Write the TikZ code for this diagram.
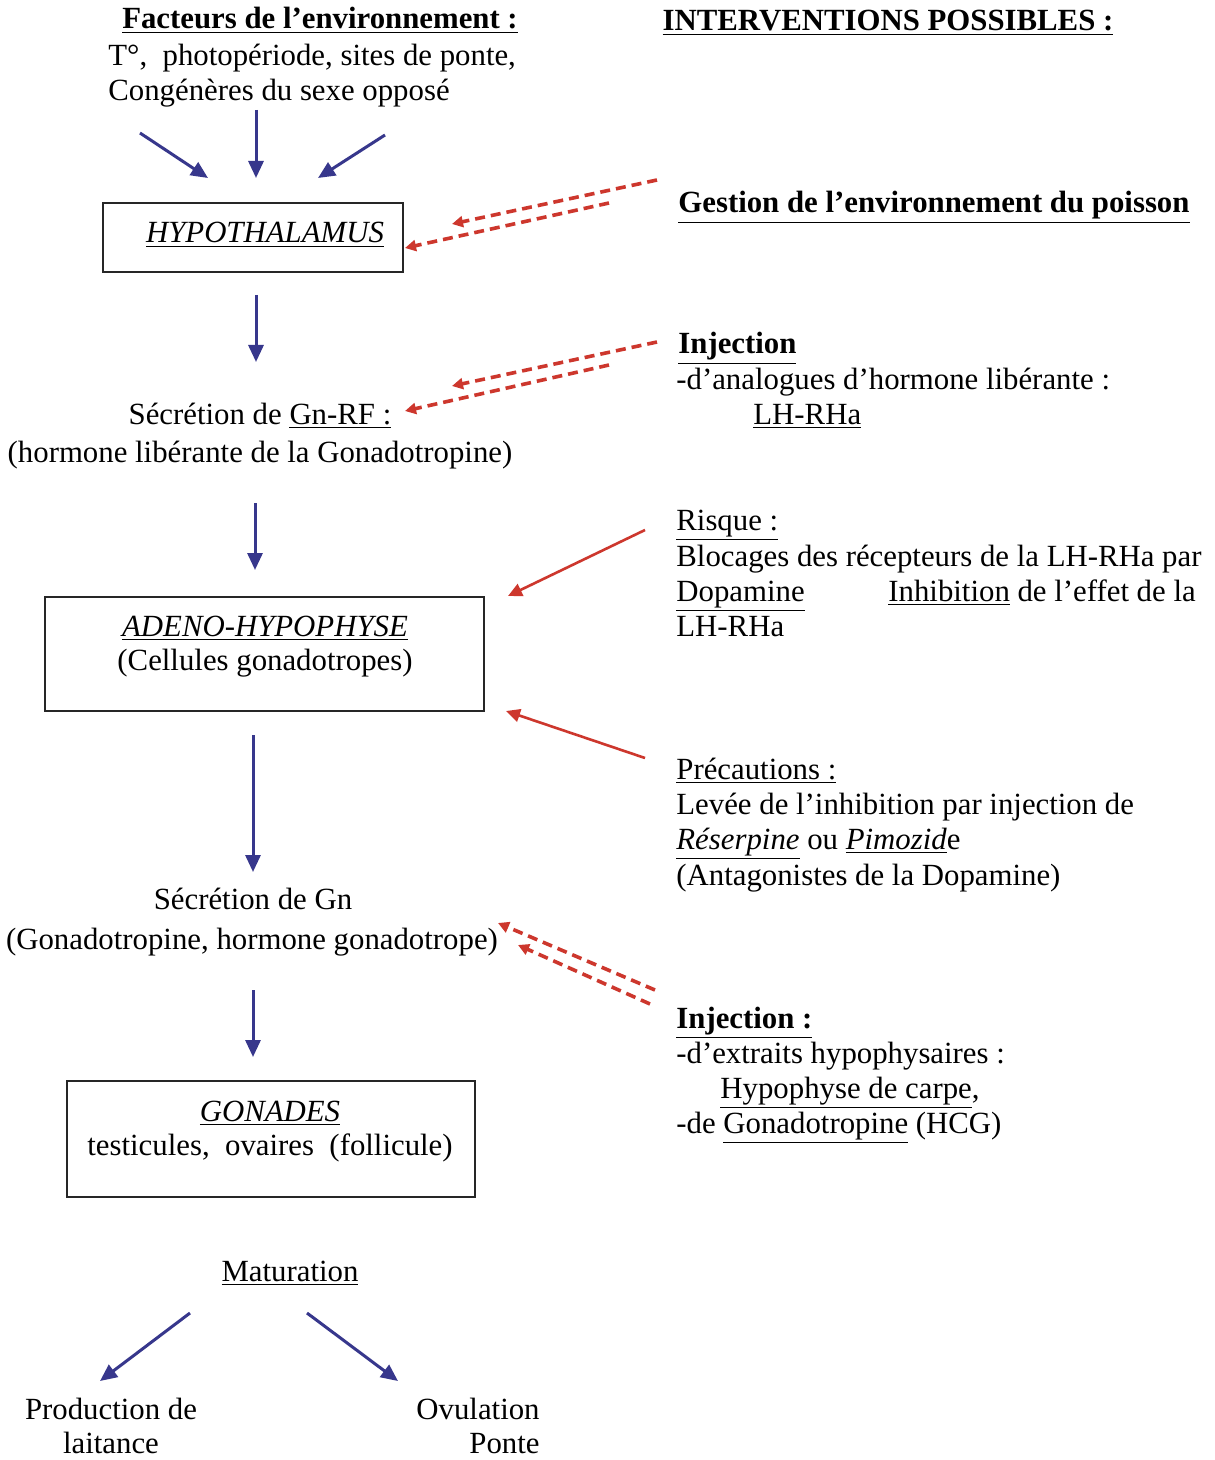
\documentclass[tikz,border=0pt]{standalone}
\usepackage{fontspec}
\setmainfont{Liberation Serif}
\usetikzlibrary{arrows.meta}
\definecolor{bluearr}{RGB}{55,55,140}
\definecolor{redarr}{RGB}{205,55,45}
\tikzset{
  txt/.style={inner sep=0pt, font=\fontsize{15.4}{17.5}\selectfont},
  boxnode/.style={draw=black!85, line width=0.8pt, inner sep=0pt},
  bluear/.style={draw=bluearr, line width=1.5pt, -{Triangle[length=8.5pt,width=7.5pt]}},
  reddash/.style={draw=redarr, line width=1.8pt, dash pattern=on 5pt off 3pt, -{Triangle[length=5.5pt,width=5.5pt]}},
  redsolid/.style={draw=redarr, line width=1.3pt, -{Triangle[length=7pt,width=6.5pt]}}
}
\begin{document}
\begin{tikzpicture}[x=0.5pt,y=-0.5pt]
\useasboundingbox[fill=white] (0,0) rectangle (1214,1460);

% ---------- left column ----------
\node[txt, anchor=base] (facth) at (320,29) {\textbf{\underline{Facteurs de l’environnement :}}};
\node[txt, anchor=base west] (fact1) at (108,66) {T°,\ \ photopériode, sites de ponte,};
\node[txt, anchor=base west] (fact2) at (108,101) {Congénères du sexe opposé};

\node[boxnode, minimum width=150pt, minimum height=34.5pt] (hyp) at (253,237.5) {};
\node[txt, anchor=base] (hyptxt) at (265,243) {\underline{\textit{HYPOTHALAMUS}}};

\node[txt, anchor=base] (gnrf1) at (260,424) {Sécrétion de \underline{Gn-RF :}};
\node[txt, anchor=base] (gnrf2) at (260,462) {(hormone libérante de la Gonadotropine)};

\node[boxnode, minimum width=219.5pt, minimum height=57pt] (adeno) at (264.5,654) {};
\node[txt, anchor=base] (adeno1) at (265,636) {\underline{\textit{ADENO-HYPOPHYSE}}};
\node[txt, anchor=base] (adeno2) at (265,670) {(Cellules gonadotropes)};

\node[txt, anchor=base] (gn1) at (253,909) {Sécrétion de Gn};
\node[txt, anchor=base] (gn2) at (252,949) {(Gonadotropine, hormone gonadotrope)};

\node[boxnode, minimum width=204pt, minimum height=58pt] (gon) at (271,1139) {};
\node[txt, anchor=base] (gon1) at (270,1121) {\underline{\textit{GONADES}}};
\node[txt, anchor=base] (gon2) at (270,1155) {testicules,\ \ ovaires\ \ (follicule)};

\node[txt, anchor=base] (mat) at (290,1281) {\underline{Maturation}};
\node[txt, anchor=base] (prod1) at (111,1419) {Production de};
\node[txt, anchor=base] (prod2) at (111,1453) {laitance};
\node[txt, anchor=base east] (ovu1) at (540,1419) {Ovulation};
\node[txt, anchor=base east] (ovu2) at (540,1453) {Ponte};

% ---------- right column ----------
\node[txt, anchor=base] (inth) at (888,31) {\textbf{\underline{INTERVENTIONS POSSIBLES :}}};
\node[txt, anchor=base west] (gest) at (678,213) {\textbf{\underline{Gestion de l’environnement du poisson}}};

\node[txt, anchor=base west] (inja) at (678,354) {\textbf{\underline{Injection}}};
\node[txt, anchor=base west] (injb) at (676,389) {-d’analogues d’hormone libérante :};
\node[txt, anchor=base west] (injc) at (753,424) {\underline{LH-RHa}};

\node[txt, anchor=base west] (risa) at (676,530) {\underline{Risque :}};
\node[txt, anchor=base west] (risb) at (676,566) {Blocages des récepteurs de la LH-RHa par};
\node[txt, anchor=base west] (risc) at (676,601) {\underline{Dopamine}};
\node[txt, anchor=base west] (risd) at (888,601) {\underline{Inhibition} de l’effet de la};
\node[txt, anchor=base west] (rise) at (676,636) {LH-RHa};

\node[txt, anchor=base west] (prea) at (676,779) {\underline{Précautions :}};
\node[txt, anchor=base west] (preb) at (676,814) {Levée de l’inhibition par injection de};
\node[txt, anchor=base west] (prec) at (676,849) {\underline{\textit{Réserpine}} ou \underline{\textit{Pimozid}}e};
\node[txt, anchor=base west] (pred) at (676,885) {(Antagonistes de la Dopamine)};

\node[txt, anchor=base west] (ijxa) at (676,1028) {\textbf{\underline{Injection :}}};
\node[txt, anchor=base west] (ijxb) at (676,1063) {-d’extraits hypophysaires :};
\node[txt, anchor=base west] (ijxc) at (720,1098) {\underline{Hypophyse de carpe},};
\node[txt, anchor=base west] (ijxd) at (676,1133) {-de \underline{Gonadotropine} (HCG)};

% ---------- connector end points ----------
\coordinate (f1s) at (140,133); \coordinate (f1e) at (208,178);
\coordinate (f2s) at (256,110); \coordinate (f2e) at (256,178);
\coordinate (f3s) at (385,135); \coordinate (f3e) at (318,178);
\coordinate (h1s) at (256,295); \coordinate (h1e) at (256,362);
\coordinate (g1s) at (255,503); \coordinate (g1e) at (255,570);
\coordinate (a1s) at (253,735); \coordinate (a1e) at (253,872);
\coordinate (n1s) at (253,990); \coordinate (n1e) at (253,1057);
\coordinate (m1s) at (190,1313); \coordinate (m1e) at (100,1381);
\coordinate (m2s) at (307,1313); \coordinate (m2e) at (398,1381);

\coordinate (d1s) at (657,180); \coordinate (d1e) at (452,224);
\coordinate (d2s) at (609,203); \coordinate (d2e) at (405,248);
\coordinate (d3s) at (657,342); \coordinate (d3e) at (452,386);
\coordinate (d4s) at (609,365); \coordinate (d4e) at (405,411);
\coordinate (d5s) at (655,990); \coordinate (d5e) at (498,923);
\coordinate (d6s) at (650,1004); \coordinate (d6e) at (518,945);
\coordinate (r1s) at (645,530); \coordinate (r1e) at (508,596);
\coordinate (r2s) at (645,758); \coordinate (r2e) at (506,711);

% ---------- blue arrows ----------
\draw[bluear] (f1s) -- (f1e);
\draw[bluear] (f2s) -- (f2e);
\draw[bluear] (f3s) -- (f3e);
\draw[bluear] (h1s) -- (h1e);
\draw[bluear] (g1s) -- (g1e);
\draw[bluear] (a1s) -- (a1e);
\draw[bluear] (n1s) -- (n1e);
\draw[bluear] (m1s) -- (m1e);
\draw[bluear] (m2s) -- (m2e);

% ---------- red arrows ----------
\draw[reddash] (d1s) -- (d1e);
\draw[reddash] (d2s) -- (d2e);
\draw[reddash] (d3s) -- (d3e);
\draw[reddash] (d4s) -- (d4e);
\draw[reddash] (d5s) -- (d5e);
\draw[reddash] (d6s) -- (d6e);
\draw[redsolid] (r1s) -- (r1e);
\draw[redsolid] (r2s) -- (r2e);
\end{tikzpicture}
\end{document}
